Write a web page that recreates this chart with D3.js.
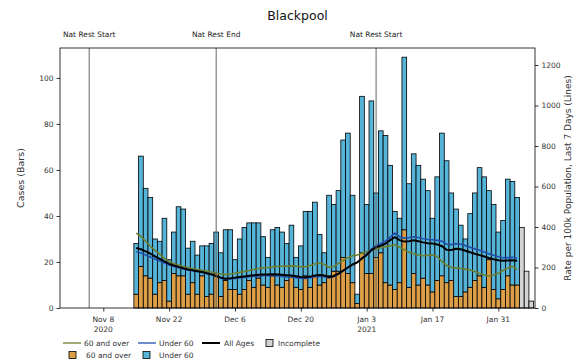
<!DOCTYPE html>
<html><head><meta charset="utf-8">
<script src="https://d3js.org/d3.v7.min.js"></script>
<style>body{margin:0;background:#fff}svg{display:block;font-family:"DejaVu Sans",sans-serif}</style>
</head><body><svg id="c" width="578" height="363"></svg>
<script>
// ---- data ----
const startDate = "2020-11-15"; // first bar; one bar per day
const over60Cases = [6,18,14,13,6,11,12,3,15,14,14,6,11,6,14,5,6,15,5,12,8,8,6,8,12,9,13,10,9,14,10,9,12,14,9,8,14,9,14,10,11,14,16,16,22,15,11,2,24,15,15,22,24,11,10,8,11,34,9,15,10,13,10,7,12,14,11,12,5,5,7,9,12,14,9,21,8,4,8,14,10,10];
const under60Cases = [22,48,38,35,24,18,27,18,18,30,29,20,18,17,13,22,22,18,19,22,26,13,24,27,25,28,24,21,13,20,25,24,16,22,13,19,28,33,32,22,13,35,29,35,51,61,38,4,68,30,75,28,53,64,52,34,28,75,45,52,52,43,41,32,45,62,53,38,38,31,23,32,38,47,48,30,37,29,30,42,45,38];
const incompleteCases = [35,16,3];
const rateAll = [296,290,280,268,255,243,230,218,210,203,196,190,186,182,178,172,166,158,150,145,147,150,153,156,159,162,164,165,166,167,166,164,162,160,157,153,152,155,160,163,160,152,158,170,185,200,215,225,245,262,285,300,308,318,335,350,335,328,330,334,330,324,320,318,314,305,288,287,293,290,283,275,268,261,254,247,241,236,233,235,236,233];
const rateUnder60 = [278,272,262,252,242,232,222,212,205,199,193,188,184,180,176,171,165,156,147,142,143,146,149,152,155,157,158,159,160,160,158,156,154,152,150,147,146,149,154,157,155,148,155,168,183,198,213,225,247,266,292,308,318,330,350,370,352,345,348,352,348,342,338,337,334,330,315,313,318,315,308,300,292,285,276,268,260,253,248,249,250,246];
const rateOver60 = [370,355,330,305,285,265,245,230,220,212,205,200,195,190,186,182,178,172,168,165,168,172,176,180,185,190,195,198,200,203,205,206,207,208,206,203,204,210,218,222,215,200,205,220,235,248,258,262,270,278,285,292,298,303,308,311,300,288,275,268,262,258,260,262,255,230,210,200,198,195,192,188,180,170,163,158,162,172,185,198,205,192];
const restrictions = [{date:"2020-11-05",label:"Nat Rest Start"},{date:"2020-12-02",label:"Nat Rest End"},{date:"2021-01-05",label:"Nat Rest Start"}];
const xTicks = [["2020-11-08","Nov 8","2020"],["2020-11-22","Nov 22"],["2020-12-06","Dec 6"],["2020-12-20","Dec 20"],["2021-01-03","Jan 3","2021"],["2021-01-17","Jan 17"],["2021-01-31","Jan 31"]];
const leftTicks = [0,20,40,60,80,100];
const rightTicks = [0,200,400,600,800,1000,1200];

// ---- layout ----
const P = {l:60, r:535, t:48, b:308};
const col = {o:"#dc9e46", u:"#57b4d9", inc:"#d3d3d3", lo:"#6c7f2c", lu:"#1f4fae", la:"#000"};
const parse = d3.timeParse("%Y-%m-%d");
const day0 = parse(startDate);
const dayAt = i => d3.timeDay.offset(day0, i);
const x = d3.scaleTime().domain([new Date(2020,9,29,19,0), new Date(2021,1,7,19,0)]).range([P.l,P.r]);
const yL = d3.scaleLinear().domain([0,113]).range([P.b,P.t]);
const yR = d3.scaleLinear().domain([0,1284]).range([P.b,P.t]);
const bw = x(d3.timeDay.offset(day0,1)) - x(day0);

const svg = d3.select("#c");
const g = svg.append("g");

// bars
const nComplete = over60Cases.length;
const bars = g.append("g").attr("stroke","#000").attr("stroke-width",0.8);
over60Cases.forEach((v,i)=>{
  const cx = x(dayAt(i));
  bars.append("rect").attr("x",cx-bw/2).attr("width",bw).attr("y",yL(v)).attr("height",yL(0)-yL(v)).attr("fill",col.o);
  const u = under60Cases[i];
  bars.append("rect").attr("x",cx-bw/2).attr("width",bw).attr("y",yL(v+u)).attr("height",yL(v)-yL(v+u)).attr("fill",col.u);
});
incompleteCases.forEach((v,i)=>{
  const cx = x(dayAt(nComplete+i));
  bars.append("rect").attr("x",cx-bw/2).attr("width",bw).attr("y",yL(v)).attr("height",yL(0)-yL(v)).attr("fill",col.inc);
});

// lines
const line = d3.line().x((d,i)=>x(dayAt(i))).y(d=>yR(d));
g.append("path").datum(rateOver60).attr("d",line).attr("fill","none").attr("stroke",col.lo).attr("stroke-width",1.6);
g.append("path").datum(rateUnder60).attr("d",line).attr("fill","none").attr("stroke",col.lu).attr("stroke-width",1.6);
g.append("path").datum(rateAll).attr("d",line).attr("fill","none").attr("stroke",col.la).attr("stroke-width",2);

// restriction lines
restrictions.forEach(r=>{
  const xx = x(parse(r.date));
  g.append("line").attr("x1",xx).attr("x2",xx).attr("y1",P.t).attr("y2",P.b).attr("stroke","#666").attr("stroke-width",1);
  svg.append("text").attr("x",xx).attr("y",37).attr("text-anchor","middle").attr("font-size",7.5).attr("fill","#222").text(r.label);
});

// frame
svg.append("rect").attr("x",P.l).attr("y",P.t).attr("width",P.r-P.l).attr("height",P.b-P.t).attr("fill","none").attr("stroke","#000").attr("stroke-width",0.8);

// axes
const axL = svg.append("g").attr("transform",`translate(${P.l},0)`).call(d3.axisLeft(yL).tickValues(leftTicks).tickFormat(d3.format("d")).tickSize(3.5).tickPadding(3));
const axR = svg.append("g").attr("transform",`translate(${P.r},0)`).call(d3.axisRight(yR).tickValues(rightTicks).tickFormat(d3.format("d")).tickSize(3.5).tickPadding(3));
const axB = svg.append("g").attr("transform",`translate(0,${P.b})`).call(d3.axisBottom(x).tickValues(xTicks.map(t=>parse(t[0]))).tickSize(3.5).tickFormat(()=>""));
[axL,axR,axB].forEach(a=>{a.select(".domain").remove();a.selectAll("text").attr("font-size",7.5).attr("fill","#333").attr("font-family","DejaVu Sans");a.selectAll("line").attr("stroke","#000").attr("stroke-width",0.8);});
xTicks.forEach(t=>{
  const xx = x(parse(t[0]));
  const tx = svg.append("text").attr("x",xx).attr("y",P.b+14).attr("text-anchor","middle").attr("font-size",7.5).attr("fill","#333");
  tx.append("tspan").attr("x",xx).text(t[1]);
  if(t[2]) tx.append("tspan").attr("x",xx).attr("dy",9.5).text(t[2]);
});

// titles
svg.append("text").attr("x",(P.l+P.r)/2).attr("y",20).attr("text-anchor","middle").attr("font-size",12.5).attr("fill","#111").text("Blackpool");
svg.append("text").attr("transform",`translate(24,${(P.t+P.b)/2}) rotate(-90)`).attr("text-anchor","middle").attr("font-size",9.5).attr("fill","#333").text("Cases (Bars)");
svg.append("text").attr("transform",`translate(571,${(P.t+P.b)/2}) rotate(-90)`).attr("text-anchor","middle").attr("font-size",9).attr("fill","#333").text("Rate per 100k Population, Last 7 Days (Lines)");

// legend
const lg = svg.append("g").attr("font-size",7.5).attr("fill","#333");
const row1 = 343, row2 = 355;
[[63,col.lo,1.3,"60 and over",84],[138,col.lu,1.3,"Under 60",159],[202,col.la,2,"All Ages",224]].forEach(([x0,c,w,t,tx])=>{
  lg.append("line").attr("x1",x0).attr("x2",x0+18).attr("y1",row1).attr("y2",row1).attr("stroke",c).attr("stroke-width",w);
  lg.append("text").attr("x",tx).attr("y",row1+2.7).text(t);
});
[[266,row1,col.inc,"Incomplete",278],[69,row2,col.o,"60 and over",86],[143,row2,col.u,"Under 60",159]].forEach(([x0,yy,c,t,tx])=>{
  lg.append("rect").attr("x",x0).attr("y",yy-3.5).attr("width",7).attr("height",7).attr("fill",c).attr("stroke","#000").attr("stroke-width",0.8);
  lg.append("text").attr("x",tx).attr("y",yy+2.7).text(t);
});
</script></body></html>
